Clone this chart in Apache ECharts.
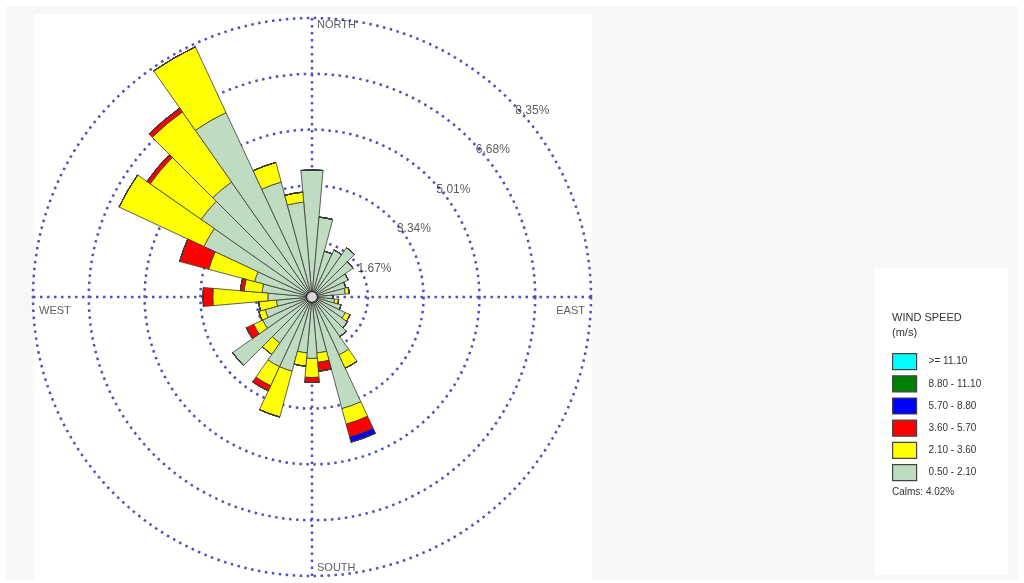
<!DOCTYPE html>
<html>
<head>
<meta charset="utf-8">
<script src="https://cdn.jsdelivr.net/npm/echarts@6/dist/echarts.min.js"></script>
<style>
  html, body { margin: 0; padding: 0; background: #ffffff; }
  #wrap { position: relative; width: 1024px; height: 583px; overflow: hidden; }
  .bg { position: absolute; }
  #chart { position: absolute; left: 0; top: 0; width: 1024px; height: 583px; }
</style>
</head>
<body>
<div id="wrap">
  <div class="bg" style="left:6px;top:6px;width:1012px;height:574px;background:#f7f7f7;"></div>
  <div class="bg" style="left:34px;top:14px;width:558px;height:566px;background:#ffffff;"></div>
  <div class="bg" style="left:875px;top:268px;width:133px;height:307px;background:#ffffff;"></div>
  <div id="chart"></div>
</div>
<script>
// Directions (degrees clockwise from north), 10-degree sectors
const directions = ['0','10','20','30','40','50','60','70','80','90','100','110','120','130','140','150','160','170',
                    '180','190','200','210','220','230','240','250','260','270','280','290','300','310','320','330','340','350'];

// Frequency (%) per wind speed class, per direction
const speed_050_210 = [3.80, 2.40, 1.42, 1.55, 1.80, 1.50, 1.20, 1.05, 1.00, 0.63, 0.68, 0.90, 1.10, 1.30, 1.45, 1.91, 3.46, 1.68,
                       1.84, 1.68, 2.30, 2.30, 1.68, 2.90, 1.63, 1.45, 1.07, 1.32, 1.50, 1.78, 3.57, 4.05, 4.20, 6.09, 3.56, 2.85];
const speed_210_360 = [0, 0, 0, 0, 0, 0, 0, 0, 0.12, 0, 0.12, 0, 0.16, 0, 0, 0.44, 0.48, 0.28,
                       0.57, 0.40, 1.42, 0.63, 0.42, 0, 0.30, 0.20, 0.53, 1.65, 0.54, 1.42, 2.80, 1.86, 2.56, 2.17, 0.61, 0.30];
const speed_360_570 = [0, 0, 0, 0, 0, 0, 0, 0, 0, 0, 0, 0, 0, 0, 0, 0, 0.40, 0.27,
                       0.15, 0, 0, 0.17, 0, 0, 0.24, 0, 0, 0.29, 0.11, 0.90, 0, 0.12, 0.14, 0, 0, 0];
const speed_570_880 = [0, 0, 0, 0, 0, 0, 0, 0, 0, 0, 0, 0, 0, 0, 0, 0, 0.16, 0,
                       0, 0, 0, 0, 0, 0, 0, 0, 0, 0, 0, 0, 0, 0, 0, 0, 0, 0];
const speed_880_1110 = [0, 0, 0, 0, 0, 0, 0, 0, 0, 0, 0, 0, 0, 0, 0, 0, 0, 0,
                        0, 0, 0, 0, 0, 0, 0, 0, 0, 0, 0, 0, 0, 0, 0, 0, 0, 0];
const speed_ge_1110 = [0, 0, 0, 0, 0, 0, 0, 0, 0, 0, 0, 0, 0, 0, 0, 0, 0, 0,
                       0, 0, 0, 0, 0, 0, 0, 0, 0, 0, 0, 0, 0, 0, 0, 0, 0, 0];

const speedClasses = ['0.50 - 2.10', '2.10 - 3.60', '3.60 - 5.70', '5.70 - 8.80', '8.80 - 11.10', '>= 11.10'];
const ringValues = [1.67, 3.34, 5.01, 6.68, 8.35];
const ringLabels = ['1.67%', '3.34%', '5.01%', '6.68%', '8.35%'];
const cardinalNames = ['NORTH', 'EAST', 'SOUTH', 'WEST'];
const cardinalAngles = [0, 90, 180, 270];
const calmsText = 'Calms: 4.02%';

const classData = [speed_050_210, speed_210_360, speed_360_570, speed_570_880, speed_880_1110, speed_ge_1110];
const classColors = ['#c0dcc0', '#ffff00', '#ff0000', '#0000ff', '#008000', '#00ffff'];

const gridColor = '#4f4fc4';
const gridLine = { color: gridColor, width: 2.5, type: [2.5, 4.5] };
const RMAX = 8.35;
const FONT = 'Liberation Sans, Arial, sans-serif';

const chart = echarts.init(document.getElementById('chart'), null, { renderer: 'canvas' });

const barSeries = speedClasses.map((name, k) => ({
  name: name,
  type: 'bar',
  coordinateSystem: 'polar',
  polarIndex: 1,
  stack: 'rose',
  barCategoryGap: '0%',
  data: classData[k],
  itemStyle: { color: classColors[k], borderColor: '#3a3a3a', borderWidth: 0.8 },
  emphasis: { disabled: true },
  z: 3
}));

const cardinalLabelCfg = [
  { position: 'right', distance: 5, offset: [0, 7] },
  { position: 'left', distance: 6, offset: [0, 14] },
  { position: 'right', distance: 5, offset: [0, -8] },
  { position: 'right', distance: 6, offset: [0, 14] }
];

const option = {
  animation: false,
  polar: [
    { center: [312, 297], radius: 279 },
    { center: [312, 297], radius: 279 }
  ],
  angleAxis: [
    {
      polarIndex: 0, type: 'value', min: 0, max: 360, interval: 90,
      startAngle: 90, clockwise: true,
      axisLine: { show: false }, axisTick: { show: false }, axisLabel: { show: false },
      splitLine: { show: true, lineStyle: gridLine }
    },
    {
      polarIndex: 1, type: 'category', data: directions,
      startAngle: 95, clockwise: true, boundaryGap: true,
      axisLine: { show: false }, axisTick: { show: false }, axisLabel: { show: false },
      splitLine: { show: false }
    }
  ],
  radiusAxis: [
    {
      polarIndex: 0, type: 'value', min: 0, max: RMAX, interval: 1.67,
      axisLine: { show: false }, axisTick: { show: false }, axisLabel: { show: false },
      splitLine: { show: true, lineStyle: gridLine }
    },
    {
      polarIndex: 1, type: 'value', min: 0, max: RMAX,
      axisLine: { show: false }, axisTick: { show: false }, axisLabel: { show: false },
      splitLine: { show: false }
    }
  ],
  legend: {
    orient: 'vertical',
    left: 887, top: 348,
    itemWidth: 24, itemHeight: 16, itemGap: 5,
    selectedMode: false,
    icon: 'rect',
    data: speedClasses.slice().reverse(),
    itemStyle: { borderColor: '#444', borderWidth: 1.2 },
    textStyle: { fontFamily: FONT, fontSize: 10, color: '#333', padding: [0, 0, 0, 7] }
  },
  graphic: [
    { type: 'text', left: 892, top: 312, style: { text: 'WIND SPEED', fontFamily: FONT, fontSize: 11, fill: '#333' } },
    { type: 'text', left: 892, top: 327, style: { text: '(m/s)', fontFamily: FONT, fontSize: 11, fill: '#333' } },
    { type: 'text', left: 892, top: 487, style: { text: calmsText, fontFamily: FONT, fontSize: 10, fill: '#333' } }
  ],
  series: barSeries.concat([
    {
      type: 'scatter', coordinateSystem: 'polar', polarIndex: 0,
      symbolSize: 0, silent: true, z: 5,
      data: ringValues.map((v, i) => ({ value: [v, 45], name: ringLabels[i] })),
      label: {
        show: true, position: 'right', distance: 6, offset: [0, 11],
        formatter: p => p.name,
        fontFamily: FONT, fontSize: 12, color: '#333'
      }
    },
    {
      type: 'scatter', coordinateSystem: 'polar', polarIndex: 0,
      symbolSize: 0, silent: true, z: 5,
      data: cardinalNames.map((n, i) => ({ value: [RMAX, cardinalAngles[i]], name: n, label: cardinalLabelCfg[i] })),
      label: {
        show: true,
        formatter: p => p.name,
        fontFamily: FONT, fontSize: 11, color: '#333'
      }
    },
    {
      type: 'scatter', coordinateSystem: 'polar', polarIndex: 0,
      symbol: 'circle', symbolSize: 11, silent: true, z: 6,
      itemStyle: { color: '#ffffff', borderColor: '#222', borderWidth: 1.5 },
      data: [[0, 0]]
    }
  ])
};

chart.setOption(option);
</script>
</body>
</html>
